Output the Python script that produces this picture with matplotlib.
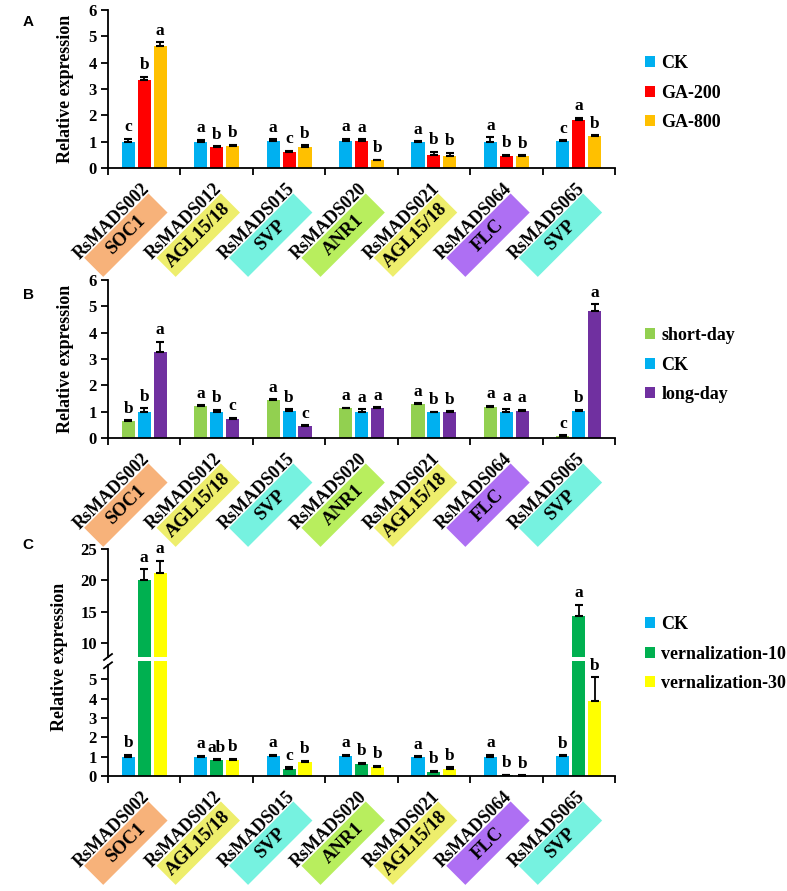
import matplotlib
matplotlib.use('Agg')
import matplotlib.pyplot as plt
from matplotlib import transforms
from matplotlib.patches import Rectangle, Patch
import numpy as np

W, H = 787, 891

genes = ['RsMADS002', 'RsMADS012', 'RsMADS015', 'RsMADS020', 'RsMADS021', 'RsMADS064', 'RsMADS065']
families = ['SOC1', 'AGL15/18', 'SVP', 'ANR1', 'AGL15/18', 'FLC', 'SVP']
family_colors = {'SOC1': '#F7B27A', 'AGL15/18': '#EEEE6C', 'SVP': '#76F2E0',
                 'ANR1': '#B8EE5E', 'FLC': '#AE6FF3'}

# Panel A : GA treatment
a_series = ['CK', 'GA-200', 'GA-800']
a_colors = ['#00B0F0', '#FF0000', '#FFC000']
a_ck = [1.00, 1.00, 1.04, 1.02, 0.98, 1.00, 1.02]
a_ck_err = [0.12, 0.08, 0.05, 0.10, 0.04, 0.16, 0.04]
a_ga200 = [3.35, 0.79, 0.62, 1.02, 0.51, 0.44, 1.81]
a_ga200_err = [0.12, 0.03, 0.03, 0.07, 0.11, 0.07, 0.09]
a_ga800 = [4.62, 0.85, 0.78, 0.29, 0.47, 0.45, 1.21]
a_ga800_err = [0.16, 0.04, 0.08, 0.03, 0.11, 0.03, 0.03]
a_let_ck = ['c', 'a', 'a', 'a', 'a', 'a', 'c']
a_let_ga200 = ['b', 'b', 'c', 'a', 'b', 'b', 'a']
a_let_ga800 = ['a', 'b', 'b', 'b', 'b', 'b', 'b']

# Panel B : photoperiod
b_series = ['short-day', 'CK', 'long-day']
b_colors = ['#92D050', '#00B0F0', '#7030A0']
b_sd = [0.64, 1.22, 1.45, 1.13, 1.30, 1.19, 0.08]
b_sd_err = [0.04, 0.02, 0.02, 0.02, 0.03, 0.03, 0.02]
b_ck = [1.00, 1.00, 1.03, 1.00, 0.97, 0.99, 1.03]
b_ck_err = [0.13, 0.08, 0.06, 0.10, 0.03, 0.13, 0.05]
b_ld = [3.28, 0.73, 0.45, 1.13, 0.99, 1.04, 4.82]
b_ld_err = [0.38, 0.04, 0.04, 0.03, 0.02, 0.03, 0.25]
b_let_sd = ['b', 'a', 'a', 'a', 'a', 'a', 'c']
b_let_ck = ['b', 'b', 'b', 'a', 'b', 'a', 'b']
b_let_ld = ['a', 'c', 'c', 'a', 'b', 'a', 'a']

# Panel C : vernalization
c_series = ['CK', 'vernalization-10', 'vernalization-30']
c_colors = ['#00B0F0', '#00B050', '#FFFF00']
c_ck = [1.00, 1.00, 1.05, 1.03, 1.00, 1.00, 1.03]
c_ck_err = [0.10, 0.05, 0.04, 0.07, 0.03, 0.10, 0.05]
c_v10 = [20.0, 0.85, 0.38, 0.62, 0.22, 0.05, 14.4]
c_v10_err = [1.8, 0.03, 0.06, 0.06, 0.05, 0.02, 1.7]
c_v30 = [21.2, 0.85, 0.72, 0.47, 0.35, 0.02, 3.9]
c_v30_err = [1.9, 0.05, 0.08, 0.05, 0.10, 0.01, 1.2]
c_let_ck = ['b', 'a', 'a', 'a', 'a', 'a', 'b']
c_let_v10 = ['a', 'ab', 'c', 'b', 'b', 'b', 'a']
c_let_v30 = ['a', 'b', 'b', 'b', 'b', 'b', 'b']

SERIF = 'Liberation Serif'
SANS = 'Liberation Sans'
fig = plt.figure(figsize=(W / 100, H / 100), dpi=100)


def rect_px(left, top, right, bottom):
    return [left / W, 1 - bottom / H, (right - left) / W, (bottom - top) / H]


def style_axes(ax, bottom=True):
    for s in ['top', 'right']:
        ax.spines[s].set_visible(False)
    ax.spines['left'].set_linewidth(1.3)
    ax.spines['bottom'].set_linewidth(1.3)
    ax.tick_params(axis='y', direction='out', length=5, width=1.3, pad=3)
    for lab in ax.get_yticklabels():
        lab.set_fontfamily(SERIF)
        lab.set_fontweight('bold')
        lab.set_fontsize(12)
    ax.set_xlim(-0.5, 6.5)
    if bottom:
        ax.set_xticks(np.arange(-0.5, 7.0, 1.0))
        ax.set_xticklabels([])
        ax.tick_params(axis='x', direction='out', length=5, width=1.3)
    else:
        ax.spines['bottom'].set_visible(False)
        ax.set_xticks([])


def draw_bars(ax, vals, errs, colors, letters=None, letter_range=None):
    x = np.arange(len(genes))
    offs = [-0.22, 0.0, 0.22]
    for k in range(3):
        v = np.array(vals[k])
        e = np.array(errs[k])
        ax.bar(x + offs[k], v, width=0.18, color=colors[k], zorder=2, linewidth=0)
        ax.errorbar(x + offs[k], v, yerr=[np.zeros_like(e), e], fmt='none',
                    ecolor='black', elinewidth=1.3, capsize=3.2, capthick=1.5, zorder=3)
        if letters is not None:
            for i in range(len(x)):
                top = v[i] + e[i]
                if letter_range is not None and not (letter_range[0] <= top <= letter_range[1]):
                    continue
                ax.annotate(letters[k][i], xy=(x[i] + offs[k], top), xytext=(0, 2.5),
                            textcoords='offset points', ha='center', va='bottom',
                            fontfamily=SERIF, fontweight='bold', fontsize=12.5)


def category_labels(ax):
    base = transforms.blended_transform_factory(ax.transData, ax.transAxes)
    for i, (g, f) in enumerate(zip(genes, families)):
        tr = transforms.Affine2D().rotate_deg(45) + transforms.ScaledTranslation(i, 0, base)
        rect = Rectangle((-106, -48), 91, 27, transform=tr, facecolor=family_colors[f],
                         edgecolor='none', clip_on=False)
        ax.add_artist(rect)
        ax.text(-11, -19.5, g, transform=tr, rotation=45, rotation_mode='anchor',
                ha='right', va='baseline', fontfamily=SERIF, fontweight='bold',
                fontsize=13, clip_on=False)
        ax.text(-60.5, -34.5, f, transform=tr, rotation=45, rotation_mode='anchor',
                ha='center', va='center', fontfamily=SERIF, fontweight='bold',
                fontsize=13.5, clip_on=False)


def add_legend(ax, labels, colors, top_px):
    handles = [Patch(facecolor=c, edgecolor='none', label=l) for l, c in zip(labels, colors)]
    ax.legend(handles=handles, loc='upper left',
              bbox_to_anchor=(645 / W, 1 - top_px / H), bbox_transform=fig.transFigure,
              frameon=False, borderpad=0, borderaxespad=0, handlelength=0.55,
              handleheight=0.55, handletextpad=0.35, labelspacing=0.7,
              prop={'family': SERIF, 'weight': 'bold', 'size': 13})


def ylabel(xc_px, yc_px):
    fig.text(xc_px / W, 1 - yc_px / H, 'Relative expression', rotation=90,
             ha='center', va='center', fontfamily=SERIF, fontweight='bold', fontsize=13)


# ---- Panel A
axA = fig.add_axes(rect_px(108, 10, 615, 168))
draw_bars(axA, [a_ck, a_ga200, a_ga800], [a_ck_err, a_ga200_err, a_ga800_err], a_colors,
          [a_let_ck, a_let_ga200, a_let_ga800])
axA.set_ylim(0, 6)
axA.set_yticks(range(0, 7))
style_axes(axA)
category_labels(axA)
add_legend(axA, a_series, a_colors, 55)
ylabel(65, 89)
fig.text(28 / W, 1 - 22 / H, 'A', ha='center', va='center', fontfamily=SANS,
         fontweight='bold', fontsize=11)

# ---- Panel B
axB = fig.add_axes(rect_px(108, 280, 615, 438))
draw_bars(axB, [b_sd, b_ck, b_ld], [b_sd_err, b_ck_err, b_ld_err], b_colors,
          [b_let_sd, b_let_ck, b_let_ld])
axB.set_ylim(0, 6)
axB.set_yticks(range(0, 7))
style_axes(axB)
category_labels(axB)
add_legend(axB, b_series, b_colors, 327)
ylabel(65, 359)
fig.text(28 / W, 1 - 295 / H, 'B', ha='center', va='center', fontfamily=SANS,
         fontweight='bold', fontsize=11)

# ---- Panel C (broken axis)
axCu = fig.add_axes(rect_px(108, 549, 615, 657))
axCl = fig.add_axes(rect_px(108, 661, 615, 776))
c_vals = [c_ck, c_v10, c_v30]
c_errs = [c_ck_err, c_v10_err, c_v30_err]
c_lets = [c_let_ck, c_let_v10, c_let_v30]
upper_lo, lower_hi = 7.8, 5.95
draw_bars(axCu, c_vals, c_errs, c_colors, c_lets, (upper_lo, 30))
draw_bars(axCl, c_vals, c_errs, c_colors, c_lets, (0, lower_hi))
axCu.set_ylim(upper_lo, 25)
axCu.set_yticks([10, 15, 20, 25])
axCl.set_ylim(0, lower_hi)
axCl.set_yticks(range(0, 6))
style_axes(axCu, bottom=False)
style_axes(axCl)
category_labels(axCl)
add_legend(axCl, c_series, c_colors, 616)
ylabel(60, 657)
fig.text(28 / W, 1 - 545 / H, 'C', ha='center', va='center', fontfamily=SANS,
         fontweight='bold', fontsize=11)

# break marks on the left spine ("/" centred on each spine end)
axCl.spines['left'].set_bounds(0, lower_hi - 0.22)
kw = dict(color='black', lw=1.3, clip_on=False)
hu = 108.0
hl = 115.0
axCu.plot([-4 / 507, 4 / 507], [-3 / hu, 3 / hu], transform=axCu.transAxes, **kw)
yl_top = (lower_hi - 0.22) / lower_hi
axCl.plot([-4 / 507, 4 / 507], [yl_top - 3 / hl, yl_top + 3 / hl], transform=axCl.transAxes, **kw)

fig.savefig('out.png', dpi=100)
